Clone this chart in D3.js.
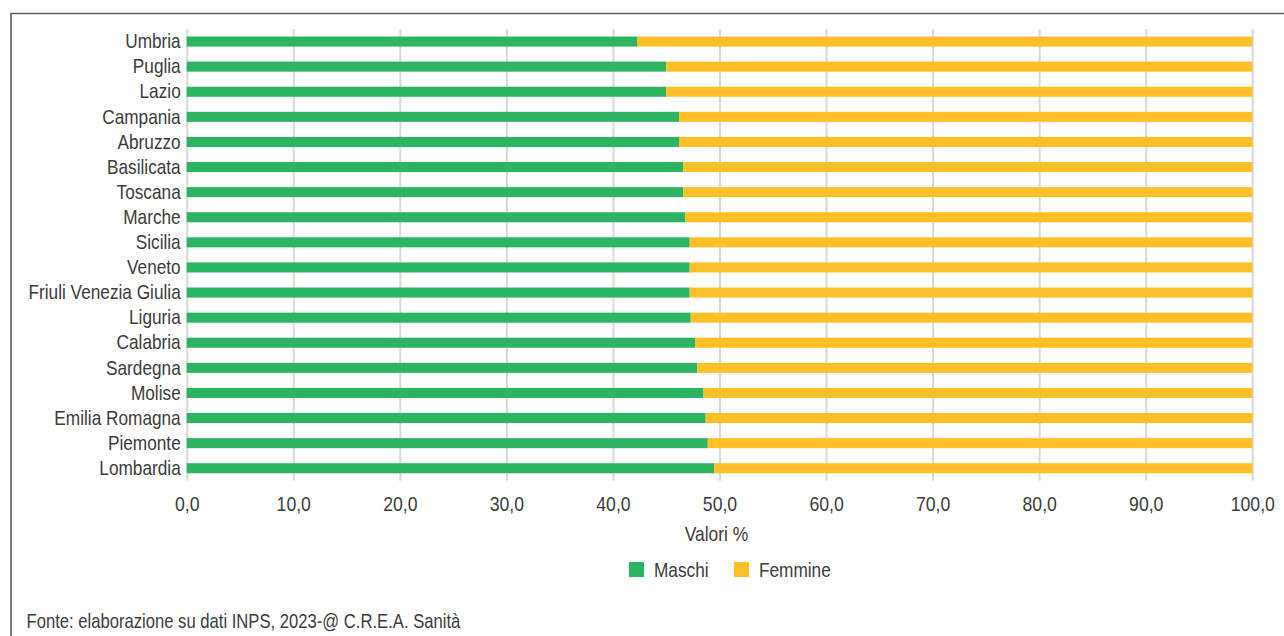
<!DOCTYPE html>
<html>
<head>
<meta charset="utf-8">
<script src="https://cdn.jsdelivr.net/npm/d3@7"></script>
<style>
  html, body { margin: 0; padding: 0; background: #fff; }
  svg { display: block; }
  text { font-family: "Liberation Sans", Arial, sans-serif; fill: #3c3c3c; }
</style>
</head>
<body>
<svg id="chart" width="1284" height="636"></svg>
<script>
// ---- data ----
const regions = ["Umbria", "Puglia", "Lazio", "Campania", "Abruzzo", "Basilicata", "Toscana", "Marche",
  "Sicilia", "Veneto", "Friuli Venezia Giulia", "Liguria", "Calabria", "Sardegna", "Molise",
  "Emilia Romagna", "Piemonte", "Lombardia"];
const maschi = [42.3, 45.0, 45.0, 46.2, 46.2, 46.6, 46.6, 46.8, 47.2, 47.2, 47.2, 47.3, 47.7, 47.9, 48.5, 48.7, 48.9, 49.5];
const femmine = [57.7, 55.0, 55.0, 53.8, 53.8, 53.4, 53.4, 53.2, 52.8, 52.8, 52.8, 52.7, 52.3, 52.1, 51.5, 51.3, 51.1, 50.5];
const tickValues = [0, 10, 20, 30, 40, 50, 60, 70, 80, 90, 100];
const seriesNames = ["Maschi", "Femmine"];
const colors = ["#2BB461", "#FFBF27"];
const axisTitle = "Valori %";
const sourceText = "Fonte: elaborazione su dati INPS, 2023-@ C.R.E.A. Sanità";

// ---- layout ----
const svg = d3.select("#chart");
const mLeft = 186.7, mRight = 1252.3, mTop = 29, mBottom = 480.8;
const FONT = '"Liberation Sans", Arial, sans-serif';

const x = d3.scaleLinear().domain([0, 100]).range([mLeft, mRight]);
const y = d3.scaleBand().domain(regions).range([mTop, mBottom]).paddingInner(0.6).paddingOuter(0.3);

// condense text horizontally (emulates a condensed typeface)
function condense(sel, f) {
  sel.each(function () {
    const len = this.getComputedTextLength();
    d3.select(this).attr("textLength", len * f).attr("lengthAdjust", "spacingAndGlyphs");
  });
}

// frame
svg.append("path")
  .attr("d", "M11,640 V13.5 H1290")
  .attr("fill", "none").attr("stroke", "#5f5f5f").attr("stroke-width", 1.6);

// grid + bottom axis
const fmt = v => d3.format(".1f")(v).replace(".", ",");
const xAxis = svg.append("g")
  .attr("transform", `translate(0,${mBottom})`)
  .call(d3.axisBottom(x).tickValues(tickValues).tickFormat(fmt).tickSize(-(mBottom - mTop)).tickPadding(15));
xAxis.select(".domain").remove();
xAxis.selectAll(".tick line").attr("stroke", "#d9d9d9").attr("stroke-width", 2);
xAxis.selectAll(".tick text").attr("font-size", 21).attr("fill", "#3c3c3c").style("font-family", FONT)
  .call(condense, 0.84);

// stacked bars
const stackData = regions.map((r, i) => ({ region: r, Maschi: maschi[i], Femmine: femmine[i] }));
const stacked = d3.stack().keys(seriesNames)(stackData);
svg.append("g").selectAll("g")
  .data(stacked).join("g")
  .attr("fill", (d, i) => colors[i])
  .selectAll("rect")
  .data(d => d).join("rect")
  .attr("x", d => x(d[0]))
  .attr("width", d => x(d[1]) - x(d[0]))
  .attr("y", d => y(d.data.region))
  .attr("height", y.bandwidth());

// category axis
const yAxis = svg.append("g")
  .attr("transform", `translate(${mLeft},0)`)
  .call(d3.axisLeft(y).tickSize(0).tickPadding(6));
yAxis.select(".domain").remove();
yAxis.selectAll(".tick text").attr("font-size", 21).attr("fill", "#3c3c3c").style("font-family", FONT)
  .call(condense, 0.82);

// axis title
svg.append("text")
  .attr("x", (mLeft + mRight) / 2 - 3).attr("y", 541)
  .attr("text-anchor", "middle").attr("font-size", 21)
  .text(axisTitle).call(condense, 0.83);

// legend
const legendX = [629, 734];
const lg = svg.append("g");
seriesNames.forEach((name, i) => {
  lg.append("rect").attr("x", legendX[i]).attr("y", 562).attr("width", 15).attr("height", 15).attr("fill", colors[i]);
  lg.append("text").attr("x", legendX[i] + 25).attr("y", 577).attr("font-size", 21).text(name).call(condense, 0.82);
});

// source
svg.append("text")
  .attr("x", 26.5).attr("y", 628)
  .attr("font-size", 20.3)
  .text(sourceText).call(condense, 0.82);
</script>
</body>
</html>
